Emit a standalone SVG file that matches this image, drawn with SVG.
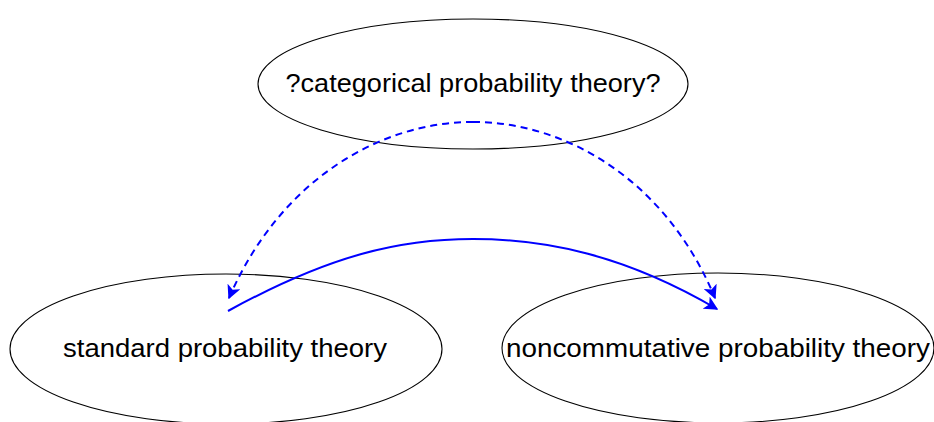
<svg xmlns="http://www.w3.org/2000/svg" width="934" height="422" viewBox="0 0 934 422">
<defs>
<style>
.node{fill:none;stroke:#000;stroke-width:1.1}
.lbl{font-family:"Liberation Sans",Arial,sans-serif;font-size:26px;fill:#000;text-anchor:middle}
.edge{fill:none;stroke:#0000ff;stroke-width:2}
.dash{stroke-dasharray:7 5}
</style>
<marker id="ahL" viewBox="0 0 10 10" refX="9" refY="5" markerWidth="14" markerHeight="14" markerUnits="userSpaceOnUse" orient="auto">
<path d="M0,0 L10,5 L0,10 L2.5,5 Z" fill="#0000ff"/>
</marker>
</defs>
<rect width="934" height="422" fill="#fff"/>
<g id="top">
<ellipse class="node" cx="473" cy="84" rx="215" ry="65"/>
<text class="lbl" x="473" y="92" textLength="375" lengthAdjust="spacingAndGlyphs">?categorical probability theory?</text>
</g>
<g id="standard">
<ellipse class="node" cx="226" cy="349" rx="216" ry="75"/>
<text class="lbl" x="225" y="357" textLength="324" lengthAdjust="spacingAndGlyphs">standard probability theory</text>
</g>
<g id="noncomm">
<ellipse class="node" cx="718" cy="348" rx="216" ry="75"/>
<text class="lbl" x="718" y="357" textLength="424" lengthAdjust="spacingAndGlyphs">noncommutative probability theory</text>
</g>
<g id="connectors">
<path class="edge dash" d="M473,122 C380,122 280,180 229,298" marker-end="url(#ahL)"/>
<path class="edge dash" d="M473,122 C566,122 666,180 715,298" marker-end="url(#ahL)"/>
<path class="edge" d="M228,311 C330,255 400,239 473,239 C546,239 625,255 717,309" marker-end="url(#ahL)"/>
</g>
</svg>
